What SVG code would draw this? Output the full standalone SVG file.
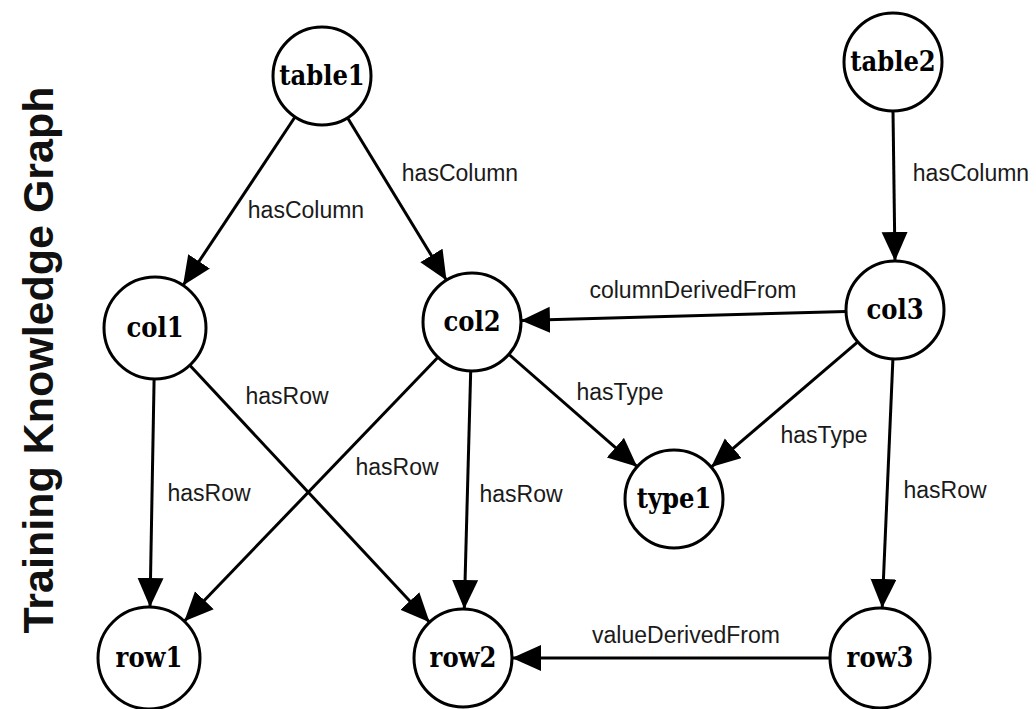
<svg xmlns="http://www.w3.org/2000/svg" width="1036" height="709" viewBox="0 0 1036 709">
  <style>
    .node circle { fill: #ffffff; stroke: #000000; stroke-width: 3; }
    .node text { font-family: "DejaVu Serif", "Liberation Serif", serif; font-weight: 900; font-stretch: condensed; font-size: 27px; text-anchor: middle; fill: #000000; }
    .edge line { stroke: #000000; stroke-width: 3; marker-end: url(#arrow); }
    .lbl { font-family: "Liberation Sans", Arial, sans-serif; font-size: 23px; text-anchor: middle; fill: #1a1a1a; }
    .title { font-family: "Liberation Sans", Arial, sans-serif; font-weight: bold; font-size: 43px; text-anchor: middle; fill: #111111; }
  </style>
  <defs>
    <marker id="arrow" markerUnits="userSpaceOnUse" markerWidth="32" markerHeight="28" refX="29" refY="13" orient="auto">
      <path d="M0,0 L29,13 L0,26 z" fill="#000000"/>
    </marker>
  </defs>
  <rect width="1036" height="709" fill="#ffffff"/>

  <!-- vertical title -->
  <text class="title" transform="translate(53,360) rotate(-90)">Training Knowledge Graph</text>

  <!-- connectors -->
  <g id="connectors" class="edge">
    <line x1="295" y1="117" x2="183" y2="285.5"/>
    <line x1="347.5" y1="117.8" x2="446.5" y2="280.2"/>
    <line x1="893" y1="111" x2="895" y2="261"/>
    <line x1="846" y1="311.4" x2="521" y2="320.6"/>
    <line x1="508.8" y1="354.3" x2="637.2" y2="466.7"/>
    <line x1="857.8" y1="341.9" x2="711.2" y2="467.1"/>
    <line x1="892.9" y1="359" x2="882.2" y2="608"/>
    <line x1="154.1" y1="379" x2="150" y2="607"/>
    <line x1="189.8" y1="365.3" x2="429.6" y2="622.2"/>
    <line x1="438" y1="357.3" x2="184.3" y2="621.2"/>
    <line x1="470.7" y1="371" x2="464.3" y2="609"/>
    <line x1="830" y1="658" x2="512" y2="658"/>
  </g>

  <!-- connector labels -->
  <g id="edge-labels">
    <text class="lbl" x="306" y="218">hasColumn</text>
    <text class="lbl" x="460" y="181">hasColumn</text>
    <text class="lbl" x="971" y="181">hasColumn</text>
    <text class="lbl" x="693" y="298">columnDerivedFrom</text>
    <text class="lbl" x="287" y="404">hasRow</text>
    <text class="lbl" x="620" y="400">hasType</text>
    <text class="lbl" x="824" y="443">hasType</text>
    <text class="lbl" x="397" y="475">hasRow</text>
    <text class="lbl" x="209" y="501">hasRow</text>
    <text class="lbl" x="521" y="502">hasRow</text>
    <text class="lbl" x="945" y="498">hasRow</text>
    <text class="lbl" x="686" y="643">valueDerivedFrom</text>
  </g>

  <!-- nodes -->
  <g id="table1" class="node"><circle cx="322" cy="76" r="49"/><text x="322" y="85">table1</text></g>
  <g id="table2" class="node"><circle cx="893" cy="62" r="49"/><text x="893" y="71">table2</text></g>
  <g id="col1" class="node"><circle cx="155" cy="328" r="51"/><text x="155" y="337">col1</text></g>
  <g id="col2" class="node"><circle cx="472" cy="322" r="49"/><text x="472" y="331">col2</text></g>
  <g id="col3" class="node"><circle cx="895" cy="310" r="49"/><text x="895" y="319">col3</text></g>
  <g id="type1" class="node"><circle cx="674" cy="499" r="49"/><text x="674" y="508">type1</text></g>
  <g id="row1" class="node"><circle cx="149" cy="658" r="51"/><text x="149" y="667">row1</text></g>
  <g id="row2" class="node"><circle cx="463" cy="658" r="49"/><text x="463" y="667">row2</text></g>
  <g id="row3" class="node"><circle cx="880" cy="658" r="50"/><text x="880" y="667">row3</text></g>
</svg>
